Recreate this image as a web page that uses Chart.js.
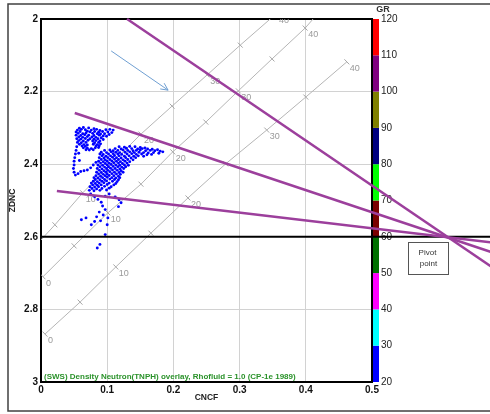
<!DOCTYPE html>
<html>
<head>
<meta charset="utf-8">
<script src="https://cdn.jsdelivr.net/npm/chart.js@4.4.1/dist/chart.umd.min.js"></script>
<style>
html,body{margin:0;padding:0;background:#fff;}
canvas{display:block;}
</style>
</head>
<body>
<canvas id="c" width="490" height="414"></canvas>
<script>
// Log samples: neutron porosity (CNCF, v/v) against bulk density (ZDNC, g/cc)
const cncf = [
  // upper lobe
  0.058,0.064,0.072,0.080,
  0.055,0.061,0.067,0.076,0.084,0.089,0.098,0.104,0.109,
  0.053,0.059,0.070,0.074,0.081,0.087,0.093,0.101,0.107,
  0.056,0.063,0.068,0.078,0.085,0.090,0.096,0.103,
  0.053,0.060,0.066,0.072,0.080,0.088,0.094,0.099,
  0.057,0.063,0.070,0.077,0.083,0.091,
  0.054,0.060,0.067,0.074,0.080,0.086,0.094,
  0.057,0.064,0.071,0.078,0.083,0.089,
  0.055,0.061,0.068,0.081,0.087,
  0.058,0.065,0.070,0.079,0.085,0.090,
  0.062,0.067,0.083,0.088,
  0.064,0.070,0.076,0.082,0.087,
  0.068,0.073,0.079,
  // left tail and hook
  0.054,0.053,0.052,0.051,0.050,0.050,0.049,0.050,0.052,0.056,0.060,0.065,0.070,0.075,0.079,0.083,0.057,0.058,
  // main lobe
  0.118,0.126,0.134,0.142,0.150,0.157,
  0.112,0.121,0.129,0.137,0.146,0.153,0.161,0.168,0.176,
  0.096,0.104,0.109,0.116,0.124,0.131,0.139,0.144,0.150,0.158,0.165,0.172,0.180,0.184,
  0.091,0.099,0.106,0.113,0.119,0.127,0.134,0.141,0.148,0.155,0.162,0.170,0.178,
  0.089,0.094,0.102,0.109,0.116,0.122,0.130,0.137,0.144,0.152,0.160,0.167,
  0.092,0.098,0.105,0.111,0.118,0.126,0.133,0.140,0.147,0.155,
  0.088,0.095,0.101,0.108,0.114,0.121,0.128,0.136,0.143,
  0.091,0.097,0.104,0.111,0.117,0.124,0.131,0.139,
  0.087,0.094,0.100,0.107,0.114,0.120,0.127,0.134,
  0.090,0.097,0.103,0.110,0.117,0.123,0.130,
  0.086,0.093,0.100,0.106,0.113,0.119,0.126,0.132,
  0.089,0.096,0.102,0.109,0.116,0.122,0.128,
  0.085,0.092,0.099,0.105,0.112,0.119,0.125,
  0.088,0.095,0.101,0.108,0.115,0.121,
  0.084,0.091,0.098,0.104,0.111,0.118,0.124,
  0.087,0.094,0.100,0.107,0.114,0.120,
  0.083,0.090,0.097,0.103,0.110,0.117,
  0.080,0.086,0.093,0.100,0.107,0.113,0.119,
  0.082,0.089,0.096,0.104,0.111,0.117,
  0.079,0.085,0.092,0.099,0.108,0.115,
  0.076,0.082,0.088,0.095,0.103,0.113,
  0.078,0.085,0.091,0.100,0.110,
  0.074,0.081,0.087,0.096,0.106,
  0.077,0.084,0.092,0.103,
  0.073,0.080,0.089,0.099,
  // scattered samples below the main lobe
  0.075,0.081,0.086,0.091,0.097,0.103,0.112,0.118,0.121,0.117,0.093,0.097,
  // lower tail
  0.061,0.068,0.076,0.081,0.084,0.088,0.090,0.094,0.101,0.100,0.097,0.089,0.085
];
const zdnc = [
  2.301,2.299,2.300,2.302,
  2.306,2.304,2.305,2.306,2.304,2.307,2.305,2.304,2.306,
  2.311,2.310,2.309,2.311,2.310,2.312,2.310,2.311,2.313,
  2.315,2.316,2.314,2.315,2.316,2.317,2.316,2.318,
  2.320,2.321,2.319,2.320,2.321,2.320,2.322,2.323,
  2.325,2.326,2.324,2.325,2.326,2.327,
  2.330,2.331,2.329,2.330,2.331,2.330,2.332,
  2.335,2.336,2.334,2.336,2.335,2.336,
  2.340,2.341,2.340,2.341,2.340,
  2.345,2.346,2.347,2.345,2.346,2.344,
  2.350,2.351,2.350,2.349,
  2.355,2.356,2.357,2.355,2.354,
  2.360,2.361,2.360,
  2.352,2.362,2.372,2.382,2.392,2.402,2.412,2.422,2.430,2.426,2.420,2.418,2.416,2.410,2.402,2.395,2.370,2.390,
  2.352,2.353,2.351,2.352,2.354,2.355,
  2.357,2.358,2.356,2.357,2.358,2.357,2.358,2.359,2.360,
  2.362,2.361,2.363,2.362,2.361,2.362,2.363,2.362,2.361,2.363,2.362,2.363,2.364,2.366,
  2.367,2.368,2.366,2.367,2.368,2.367,2.366,2.368,2.367,2.368,2.369,2.368,2.370,
  2.372,2.373,2.372,2.371,2.372,2.373,2.372,2.371,2.373,2.372,2.374,2.373,
  2.377,2.378,2.377,2.376,2.377,2.378,2.377,2.378,2.377,2.378,
  2.382,2.383,2.382,2.381,2.382,2.383,2.382,2.383,2.382,
  2.387,2.388,2.387,2.386,2.387,2.388,2.387,2.388,
  2.392,2.393,2.392,2.391,2.392,2.393,2.392,2.393,
  2.397,2.398,2.397,2.396,2.397,2.398,2.397,
  2.402,2.403,2.402,2.401,2.402,2.403,2.402,2.403,
  2.407,2.408,2.407,2.406,2.407,2.408,2.407,
  2.412,2.413,2.412,2.411,2.412,2.413,2.412,
  2.417,2.418,2.417,2.416,2.417,2.418,
  2.422,2.423,2.422,2.421,2.422,2.423,2.422,
  2.427,2.428,2.427,2.426,2.427,2.428,
  2.432,2.433,2.432,2.431,2.432,2.433,
  2.437,2.438,2.437,2.436,2.437,2.438,2.437,
  2.442,2.443,2.442,2.441,2.442,2.443,
  2.447,2.448,2.447,2.446,2.447,2.448,
  2.452,2.453,2.452,2.451,2.452,2.453,
  2.457,2.458,2.457,2.456,2.457,
  2.462,2.463,2.462,2.461,2.462,
  2.467,2.468,2.467,2.466,
  2.472,2.473,2.472,2.471,
  2.482,2.490,2.497,2.505,2.488,2.482,2.490,2.498,2.506,2.517,2.515,2.525,
  2.553,2.548,2.567,2.558,2.545,2.532,2.556,2.540,2.548,2.567,2.594,2.621,2.631
];

// CP-1e lithology lines: porosity (p.u.) and their neutron / density positions
const sandPor = [0, 5, 10, 15, 20, 25, 30, 35, 40];
const sandX   = [-0.022, 0.021, 0.063, 0.108, 0.151, 0.198, 0.251, 0.301, 0.355];
const sandY   = [2.652, 2.567, 2.479, 2.395, 2.317, 2.240, 2.154, 2.072, 1.986];

const limePor = [0, 5, 10, 15, 20, 25, 30, 35, 40, null];
const limeX   = [0.003, 0.050, 0.101, 0.151, 0.199, 0.249, 0.298, 0.349, 0.399, 0.411];
const limeY   = [2.710, 2.625, 2.534, 2.455, 2.366, 2.284, 2.198, 2.110, 2.025, 2.000];

const doloPor = [0, 5, 10, 15, 20, 25, 30, 35, 40];
const doloX   = [0.006, 0.059, 0.113, 0.166, 0.222, 0.279, 0.341, 0.400, 0.462];
const doloY   = [2.868, 2.780, 2.683, 2.590, 2.493, 2.399, 2.306, 2.215, 2.118];

// Three trend lines through the pivot point (start, far end)
const pivot = { x: 0.615, y: 2.602 };
const trendAX = [0.130, 0.700], trendAY = [2.000, 2.707];
const trendBX = [0.051, 0.700], trendBY = [2.259, 2.654];
const trendCX = [0.024, 0.700], trendCY = [2.474, 2.620];

// Density cutoff
const cutoffX = [0, 0.700], cutoffY = [2.6, 2.6];

// Annotation arrow (tail -> head)
const arrowX = [0.106, 0.192], arrowY = [2.088, 2.196];

// GR colour scale
const grBands  = [20, 30, 40, 50, 60, 70, 80, 90, 100, 110, 120];
const grColors = ['#0000ff', '#00ffff', '#ff00ff', '#007000', '#7a0000',
                  '#00ff00', '#000080', '#808000', '#800080', '#ff0000'];

const caption = '(SWS) Density Neutron(TNPH) overlay, Rhofluid = 1.0 (CP-1e 1989)';

const FAMILY = '"Liberation Sans", Arial, sans-serif';
Chart.defaults.font.family = FAMILY;

const pts = (xs, ys) => xs.map((v, i) => ({ x: v, y: ys[i] }));

const isoLines = [
  { por: sandPor, x: sandX, y: sandY },
  { por: limePor, x: limeX, y: limeY },
  { por: doloPor, x: doloX, y: doloY }
];

const trendStyle = { showLine: true, borderColor: '#9c3f9c', borderWidth: 2.5, pointRadius: 0, clip: false, order: 0 };

const datasets = [
  Object.assign({ data: pts(trendAX, trendAY) }, trendStyle),
  Object.assign({ data: pts(trendBX, trendBY) }, trendStyle),
  Object.assign({ data: pts(trendCX, trendCY) }, trendStyle),
  { data: pts(cutoffX, cutoffY), showLine: true, borderColor: '#000', borderWidth: 2, pointRadius: 0, clip: false, order: 1 },
  { data: pts(cncf, zdnc), pointRadius: 1.45, pointBackgroundColor: '#0000ff', pointBorderWidth: 0, borderWidth: 0, order: 2 },
].concat(isoLines.map(l => ({
  data: pts(l.x, l.y),
  showLine: true,
  borderColor: '#b5b5b5',
  borderWidth: 1,
  pointStyle: 'line',
  pointRotation: 46,
  pointRadius: ctx => (l.por[ctx.dataIndex] == null ? 0 : 3.5),
  pointBorderColor: '#a5a5a5',
  pointBorderWidth: 1,
  order: 3
})));

const overlay = {
  id: 'overlay',
  beforeDatasetsDraw(chart) {
    const { ctx, chartArea: a, scales } = chart;
    const x = scales.x, y = scales.y, gr = scales.gr;
    ctx.save();
    // GR colour bar
    for (let i = 0; i < grColors.length; i++) {
      const top = gr.getPixelForValue(grBands[i + 1]);
      const bot = gr.getPixelForValue(grBands[i]);
      ctx.fillStyle = grColors[i];
      ctx.fillRect(a.right + 1, top, 6, bot - top);
    }
    // plot frame
    ctx.strokeStyle = '#000';
    ctx.lineWidth = 2;
    ctx.strokeRect(a.left, a.top, a.right - a.left, a.bottom - a.top);
    // porosity labels on the lithology lines
    ctx.beginPath();
    ctx.rect(a.left, a.top, a.right - a.left, a.bottom - a.top);
    ctx.clip();
    ctx.font = '9px ' + FAMILY;
    ctx.fillStyle = '#9a9a9a';
    ctx.textAlign = 'left';
    ctx.textBaseline = 'top';
    isoLines.forEach(l => l.por.forEach((p, i) => {
      if (p != null && p % 10 === 0) {
        ctx.fillText(String(p), x.getPixelForValue(l.x[i]) + 3, y.getPixelForValue(l.y[i]) + 2);
      }
    }));
    ctx.restore();
  },
  afterDraw(chart) {
    const { ctx, chartArea: a, scales } = chart;
    const x = scales.x, y = scales.y;
    ctx.save();

    // arrow
    const x0 = x.getPixelForValue(arrowX[0]), y0 = y.getPixelForValue(arrowY[0]);
    const x1 = x.getPixelForValue(arrowX[1]), y1 = y.getPixelForValue(arrowY[1]);
    const ang = Math.atan2(y1 - y0, x1 - x0);
    ctx.strokeStyle = '#6f9fd2';
    ctx.lineWidth = 1;
    ctx.beginPath();
    ctx.moveTo(x0, y0); ctx.lineTo(x1, y1);
    ctx.moveTo(x1 - 8 * Math.cos(ang - 0.45), y1 - 8 * Math.sin(ang - 0.45));
    ctx.lineTo(x1, y1);
    ctx.lineTo(x1 - 8 * Math.cos(ang + 0.45), y1 - 8 * Math.sin(ang + 0.45));
    ctx.stroke();

    // caption inside the plot
    ctx.font = 'bold 8px ' + FAMILY;
    ctx.fillStyle = '#2a922a';
    ctx.textAlign = 'left';
    ctx.textBaseline = 'alphabetic';
    ctx.fillText(caption, a.left + 3, a.bottom - 3);

    // pivot point call-out
    const px = x.getPixelForValue(pivot.x), py = y.getPixelForValue(pivot.y);
    const bx = Math.round(px) - 39.5, by = Math.round(py) + 4.5;
    ctx.fillStyle = '#fff';
    ctx.fillRect(bx, by, 40, 32);
    ctx.strokeStyle = '#555';
    ctx.lineWidth = 1;
    ctx.strokeRect(bx, by, 40, 32);
    ctx.fillStyle = '#333';
    ctx.font = '8px ' + FAMILY;
    ctx.textAlign = 'center';
    ctx.textBaseline = 'middle';
    ctx.fillText('Pivot', bx + 19, by + 10);
    ctx.fillText('point', bx + 20, by + 21);

    // GR bar title
    ctx.font = 'bold 9px ' + FAMILY;
    ctx.fillStyle = '#333';
    ctx.fillText('GR', a.right + 11, a.top - 9);

    // outer frame
    ctx.strokeStyle = '#404040';
    ctx.lineWidth = 1.5;
    ctx.strokeRect(8, 4, 500, 407);
    ctx.restore();
  }
};

const tickFont = { family: FAMILY, size: 10, weight: 'bold' };
const plainNumber = v => String(Number(v.toFixed(2)));

new Chart(document.getElementById('c'), {
  type: 'scatter',
  data: { datasets },
  options: {
    responsive: false,
    animation: false,
    devicePixelRatio: 1,
    events: [],
    layout: { padding: { top: 19, left: 0, right: 0, bottom: 0 } },
    plugins: { legend: { display: false }, tooltip: { enabled: false } },
    scales: {
      x: {
        type: 'linear', position: 'bottom', min: 0, max: 0.5,
        ticks: { stepSize: 0.1, padding: 2, color: '#111', font: tickFont, callback: plainNumber },
        grid: { color: '#d2d2d2', drawTicks: false },
        border: { display: false },
        title: { display: true, text: 'CNCF', color: '#222',
                 font: { family: FAMILY, size: 8.5, weight: 'bold' }, padding: { top: 0, bottom: 11 } },
        afterFit(s) { s.height = 32; }
      },
      y: {
        type: 'linear', position: 'left', reverse: true, min: 2, max: 3,
        ticks: { stepSize: 0.2, padding: 3, color: '#111', font: tickFont, callback: plainNumber },
        grid: { color: '#d2d2d2', drawTicks: false },
        border: { display: false },
        title: { display: true, text: 'ZDNC', color: '#222',
                 font: { family: FAMILY, size: 8.5, weight: 'bold' }, padding: { top: 8, bottom: 0 } },
        afterFit(s) { s.width = 41; }
      },
      gr: {
        type: 'linear', axis: 'y', position: 'right', min: 20, max: 120,
        ticks: { stepSize: 10, padding: 9, color: '#222', font: { family: FAMILY, size: 10 } },
        grid: { display: false, drawTicks: false },
        border: { display: false },
        afterFit(s) { s.width = 118; }
      }
    }
  },
  plugins: [overlay]
});
</script>
</body>
</html>
